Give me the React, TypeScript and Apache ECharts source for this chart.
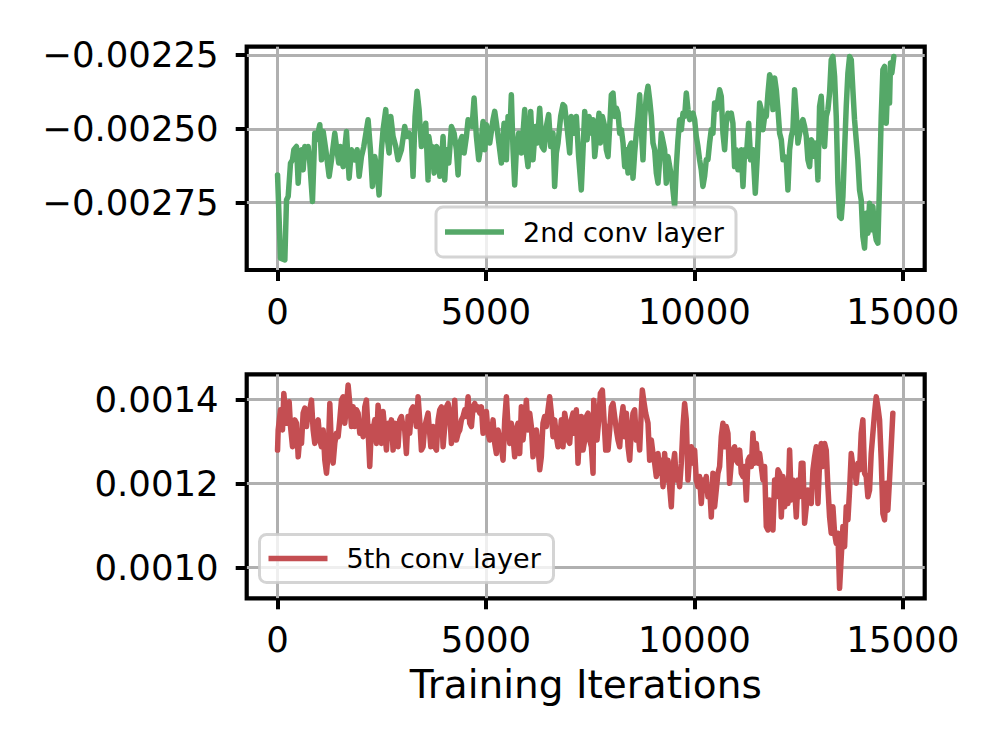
import React, { useEffect, useRef } from "react";
import * as echarts from "echarts";

const seriesNames = ["2nd conv layer", "5th conv layer"];
const xAxisTitle = "Training Iterations";
const xTicks = [0, 5000, 10000, 15000];
const topYTicks = [-0.00275, -0.0025, -0.00225];
const bottomYTicks = [0.001, 0.0012, 0.0014];

const conv2Points: [number, number][] = [
  [0,-0.002656],[71,-0.002938],[175,-0.002944],[215,-0.002741],[255,-0.002729],[311,-0.002616],[359,-0.002605],[391,-0.002571],[455,-0.002560],[495,-0.002684],[535,-0.002582],[575,-0.002571],[614,-0.002639],[654,-0.002560],[694,-0.002571],[734,-0.002560],[774,-0.002616],[838,-0.002746],[894,-0.002515],[934,-0.002537],[1014,-0.002486],[1054,-0.002605],[1094,-0.002509],[1158,-0.002571],[1238,-0.002661],[1294,-0.002605],[1373,-0.002515],[1413,-0.002560],[1469,-0.002616],[1509,-0.002560],[1573,-0.002628],[1653,-0.002509],[1717,-0.002667],[1773,-0.002571],[1853,-0.002605],[1909,-0.002571],[1957,-0.002661],[2013,-0.002594],[2069,-0.002560],[2172,-0.002469],[2228,-0.002571],[2276,-0.002695],[2332,-0.002594],[2388,-0.002639],[2436,-0.002724],[2492,-0.002571],[2532,-0.002503],[2596,-0.002435],[2628,-0.002526],[2676,-0.002582],[2716,-0.002458],[2772,-0.002526],[2836,-0.002560],[2891,-0.002605],[2971,-0.002571],[3051,-0.002492],[3091,-0.002526],[3155,-0.002515],[3211,-0.002537],[3251,-0.002661],[3299,-0.002458],[3347,-0.002373],[3395,-0.002435],[3451,-0.002560],[3507,-0.002526],[3555,-0.002481],[3611,-0.002673],
  [3628,-0.002526],[3676,-0.002571],[3708,-0.002560],[3756,-0.002650],[3812,-0.002560],[3852,-0.002571],[3892,-0.002661],[3932,-0.002616],[3971,-0.002526],[4011,-0.002673],[4051,-0.002571],[4107,-0.002616],[4171,-0.002492],[4235,-0.002515],[4291,-0.002571],[4331,-0.002656],[4371,-0.002548],[4427,-0.002526],[4475,-0.002582],[4531,-0.002526],[4571,-0.002469],[4635,-0.002481],[4667,-0.002492],[4715,-0.002396],[4770,-0.002526],[4826,-0.002605],[4874,-0.002560],[4930,-0.002475],[4970,-0.002571],[5010,-0.002486],[5050,-0.002526],[5090,-0.002548],[5170,-0.002469],[5210,-0.002441],[5250,-0.002481],[5330,-0.002571],[5370,-0.002616],[5434,-0.002481],[5490,-0.002605],[5530,-0.002458],[5569,-0.002526],[5609,-0.002385],[5649,-0.002571],[5689,-0.002690],[5729,-0.002571],[5785,-0.002515],[5849,-0.002582],[5889,-0.002515],[5929,-0.002435],[5969,-0.002582],[6009,-0.002628],[6073,-0.002441],[6129,-0.002605],[6185,-0.002492],[6233,-0.002548],[6289,-0.002430],[6344,-0.002560],[6392,-0.002571],[6448,-0.002492],[6504,-0.002452],[6552,-0.002560],[6608,-0.002515],[6648,-0.002695],[6688,-0.002582],[6728,-0.002548],[6792,-0.002458],[6848,-0.002418],[6888,-0.002424],[6952,-0.002503],[7008,-0.002582],[7048,-0.002458],[7112,-0.002515],[7168,-0.002458],[7223,-0.002594],[7287,-0.002707],
  [7369,-0.002441],[7425,-0.002537],[7473,-0.002458],[7529,-0.002515],[7569,-0.002469],[7609,-0.002594],[7664,-0.002515],[7712,-0.002447],[7744,-0.002548],[7792,-0.002458],[7848,-0.002492],[7888,-0.002571],[7928,-0.002594],[7968,-0.002492],[8008,-0.002385],[8048,-0.002379],[8088,-0.002458],[8128,-0.002430],[8168,-0.002447],[8208,-0.002515],[8248,-0.002503],[8288,-0.002548],[8328,-0.002628],[8368,-0.002571],[8408,-0.002650],[8448,-0.002560],[8487,-0.002548],[8527,-0.002667],[8567,-0.002582],[8607,-0.002515],[8647,-0.002458],[8687,-0.002385],[8727,-0.002503],[8767,-0.002605],[8807,-0.002458],[8847,-0.002390],[8887,-0.002356],[8927,-0.002402],[8967,-0.002458],[9007,-0.002548],[9047,-0.002571],[9087,-0.002650],[9127,-0.002684],[9167,-0.002605],[9207,-0.002515],[9247,-0.002543],[9286,-0.002571],[9326,-0.002684],[9366,-0.002594],[9422,-0.002639],[9470,-0.002684],[9526,-0.002763],[9566,-0.002628],[9606,-0.002537],[9646,-0.002469],[9686,-0.002503],[9726,-0.002447],[9766,-0.002458],[9806,-0.002379],[9846,-0.002435],[9886,-0.002469],[9926,-0.002458],[9966,-0.002447],[10006,-0.002469],[10046,-0.002526],[10085,-0.002560],[10125,-0.002605],[10165,-0.002639],[10205,-0.002695],[10245,-0.002661],[10285,-0.002605],[10325,-0.002605],[10365,-0.002548],[10405,-0.002503],[10445,-0.002515],[10485,-0.002413],[10525,-0.002435],[10565,-0.002402],[10605,-0.002368],[10645,-0.002390],[10685,-0.002515],[10725,-0.002571],[10765,-0.002481],[10805,-0.002447],[10845,-0.002458],[10885,-0.002447],[10924,-0.002481],[10964,-0.002628],[11004,-0.002571],[11044,-0.002639],
  [11086,-0.002639],[11126,-0.002571],[11166,-0.002695],[11206,-0.002571],[11246,-0.002594],[11302,-0.002481],[11350,-0.002605],[11405,-0.002571],[11461,-0.002718],[11509,-0.002594],[11565,-0.002413],[11605,-0.002435],[11645,-0.002503],[11685,-0.002458],[11725,-0.002458],[11765,-0.002379],[11805,-0.002317],[11845,-0.002334],[11885,-0.002435],[11925,-0.002328],[11965,-0.002368],[12005,-0.002435],[12045,-0.002515],[12085,-0.002537],[12125,-0.002605],[12165,-0.002594],[12204,-0.002605],[12244,-0.002707],[12284,-0.002571],[12324,-0.002526],[12364,-0.002503],[12404,-0.002368],[12444,-0.002447],[12484,-0.002548],[12524,-0.002515],[12564,-0.002481],[12604,-0.002469],[12644,-0.002492],[12684,-0.002526],[12724,-0.002605],[12764,-0.002628],[12804,-0.002537],[12844,-0.002548],[12884,-0.002594],[12924,-0.002548],[12964,-0.002673],[13003,-0.002424],[13043,-0.002390],[13083,-0.002515],[13123,-0.002560],[13163,-0.002458],[13203,-0.002435],[13243,-0.002379],[13283,-0.002266],[13323,-0.002255],[13363,-0.002322],[13403,-0.002458],[13443,-0.002684],[13483,-0.002797],[13523,-0.002803],[13563,-0.002729],[13603,-0.002571],[13643,-0.002424],[13683,-0.002311],[13723,-0.002255],[13763,-0.002266],[13802,-0.002368],[13842,-0.002469],[13882,-0.002537],[13922,-0.002605],[13962,-0.002707],[14002,-0.002741],[14042,-0.002865],[14082,-0.002904],[14122,-0.002786],[14162,-0.002854],[14202,-0.002752],[14242,-0.002842],[14282,-0.002763],[14322,-0.002842],[14362,-0.002876],[14402,-0.002887],[14442,-0.002684],[14482,-0.002458],[14522,-0.002300],[14562,-0.002289],[14602,-0.002481],[14641,-0.002334],[14681,-0.002413],[14705,-0.002277],[14737,-0.002311],[14785,-0.002255],
];

const conv5Points: [number, number][] = [
  [0,0.001279],[15,0.001327],[71,0.001375],[119,0.001327],[151,0.001414],[199,0.001359],[231,0.001343],[279,0.001394],[311,0.001335],[359,0.001287],[415,0.001351],[455,0.001343],[495,0.001263],[535,0.001311],[575,0.001295],[614,0.001367],[654,0.001379],[694,0.001335],[734,0.001367],[774,0.001375],[814,0.001398],[854,0.001327],[894,0.001295],[934,0.001343],[974,0.001351],[1014,0.001303],[1054,0.001287],[1094,0.001327],[1134,0.001255],[1174,0.001224],[1214,0.001271],[1254,0.001390],[1294,0.001279],[1333,0.001248],[1373,0.001295],[1413,0.001319],[1453,0.001311],[1493,0.001351],[1533,0.001398],[1573,0.001406],[1613,0.001343],[1653,0.001382],[1693,0.001434],[1733,0.001390],[1773,0.001335],[1813,0.001382],[1853,0.001335],[1893,0.001375],[1933,0.001367],[1973,0.001319],[2013,0.001343],[2053,0.001311],[2093,0.001382],[2132,0.001398],[2172,0.001327],[2212,0.001240],[2252,0.001335],[2292,0.001327],[2332,0.001351],[2372,0.001295],[2412,0.001386],[2452,0.001343],[2492,0.001295],[2532,0.001371],[2572,0.001327],[2612,0.001279],[2652,0.001343],[2692,0.001319],[2732,0.001351],[2772,0.001279],[2812,0.001343],[2852,0.001327],[2891,0.001287],[2931,0.001351],[2971,0.001359],[3011,0.001335],[3051,0.001327],[3091,0.001271],[3131,0.001359],[3171,0.001319],[3211,0.001375],[3251,0.001382],[3291,0.001375],[3331,0.001335],[3371,0.001406],[3411,0.001351],[3451,0.001279],[3491,0.001287],[3531,0.001335],[3571,0.001351],[3611,0.001367],
  [3676,0.001287],[3732,0.001335],[3772,0.001287],[3812,0.001279],[3852,0.001351],[3892,0.001375],[3932,0.001382],[3971,0.001287],[4011,0.001335],[4051,0.001382],[4091,0.001390],[4131,0.001367],[4171,0.001295],[4211,0.001327],[4251,0.001398],[4291,0.001303],[4331,0.001319],[4371,0.001327],[4411,0.001351],[4451,0.001359],[4491,0.001375],[4531,0.001359],[4571,0.001406],[4611,0.001343],[4651,0.001335],[4691,0.001382],[4731,0.001390],[4770,0.001375],[4810,0.001382],[4850,0.001367],[4890,0.001382],[4930,0.001319],[4970,0.001343],[5010,0.001371],[5050,0.001319],[5090,0.001303],[5130,0.001311],[5170,0.001351],[5210,0.001295],[5250,0.001271],[5290,0.001327],[5330,0.001303],[5370,0.001287],[5410,0.001255],[5450,0.001351],[5490,0.001406],[5530,0.001335],[5569,0.001295],[5609,0.001343],[5649,0.001311],[5689,0.001263],[5729,0.001327],[5769,0.001343],[5809,0.001271],[5849,0.001382],[5889,0.001303],[5929,0.001343],[5969,0.001398],[6009,0.001327],[6049,0.001367],[6089,0.001335],[6129,0.001263],[6169,0.001303],[6209,0.001327],[6249,0.001287],[6289,0.001232],[6328,0.001263],[6368,0.001343],[6408,0.001359],[6448,0.001335],[6488,0.001375],[6528,0.001406],[6568,0.001367],[6608,0.001311],[6648,0.001351],[6688,0.001311],[6728,0.001287],[6768,0.001303],[6808,0.001351],[6848,0.001287],[6888,0.001367],[6928,0.001343],[6968,0.001303],[7008,0.001295],[7048,0.001351],[7088,0.001367],[7128,0.001319],[7168,0.001375],[7208,0.001248],[7248,0.001327],[7287,0.001359],
  [7329,0.001279],[7369,0.001303],[7409,0.001359],[7449,0.001367],[7489,0.001303],[7529,0.001287],[7569,0.001224],[7585,0.001398],[7633,0.001351],[7664,0.001303],[7712,0.001359],[7744,0.001414],[7792,0.001422],[7824,0.001367],[7872,0.001279],[7904,0.001335],[7928,0.001279],[7968,0.001327],[8008,0.001382],[8048,0.001390],[8088,0.001359],[8128,0.001327],[8168,0.001303],[8208,0.001287],[8248,0.001351],[8288,0.001382],[8328,0.001311],[8368,0.001367],[8408,0.001287],[8448,0.001255],[8487,0.001327],[8527,0.001367],[8567,0.001375],[8607,0.001303],[8647,0.001327],[8687,0.001279],[8727,0.001375],[8751,0.001422],[8783,0.001398],[8831,0.001367],[8887,0.001343],[8927,0.001255],[8967,0.001303],[9007,0.001271],[9047,0.001248],[9087,0.001216],[9127,0.001271],[9167,0.001224],[9207,0.001255],[9247,0.001192],[9286,0.001271],[9326,0.001208],[9366,0.001255],[9406,0.001192],[9446,0.001144],[9486,0.001240],[9526,0.001271],[9566,0.001208],[9606,0.001232],[9646,0.001192],[9686,0.001248],[9726,0.001335],[9766,0.001390],[9806,0.001351],[9846,0.001208],[9886,0.001263],[9926,0.001287],[9966,0.001248],[10006,0.001279],[10046,0.001208],[10085,0.001192],[10125,0.001216],[10165,0.001152],[10205,0.001208],[10245,0.001184],[10285,0.001216],[10325,0.001168],[10365,0.001192],[10405,0.001120],[10445,0.001224],[10485,0.001144],[10525,0.001184],[10565,0.001224],[10605,0.001240],[10645,0.001311],[10685,0.001343],[10725,0.001287],[10765,0.001335],[10805,0.001319],[10845,0.001200],[10885,0.001248],[10924,0.001279],[10964,0.001287],[11004,0.001255],
  [11046,0.001248],[11086,0.001279],[11126,0.001224],[11166,0.001216],[11206,0.001240],[11246,0.001160],[11286,0.001255],[11326,0.001263],[11366,0.001240],[11405,0.001319],[11445,0.001248],[11485,0.001295],[11525,0.001248],[11565,0.001271],[11605,0.001240],[11645,0.001208],[11685,0.001240],[11725,0.001097],[11765,0.001089],[11805,0.001160],[11845,0.001097],[11885,0.001089],[11925,0.001208],[11965,0.001168],[12005,0.001232],[12045,0.001224],[12085,0.001120],[12125,0.001216],[12165,0.001144],[12204,0.001208],[12244,0.001152],[12284,0.001279],[12324,0.001160],[12364,0.001208],[12404,0.001192],[12444,0.001120],[12484,0.001208],[12524,0.001168],[12564,0.001248],[12604,0.001248],[12644,0.001105],[12684,0.001144],[12724,0.001184],[12764,0.001160],[12804,0.001152],[12844,0.001232],[12884,0.001263],[12924,0.001287],[12964,0.001152],[13003,0.001248],[13043,0.001295],[13083,0.001240],[13123,0.001295],[13163,0.001279],[13203,0.001192],[13243,0.001120],[13283,0.001081],[13323,0.001144],[13363,0.001081],[13403,0.001057],[13443,0.001081],[13483,0.000950],[13523,0.001025],[13563,0.001097],[13603,0.001049],[13643,0.001144],[13683,0.001113],[13723,0.001184],[13763,0.001271],[13802,0.001240],[13842,0.001240],[13882,0.001200],[13922,0.001248],[13962,0.001232],[14002,0.001319],[14042,0.001351],[14082,0.001224],[14122,0.001216],[14162,0.001168],[14202,0.001184],[14242,0.001271],[14282,0.001319],[14322,0.001367],[14362,0.001406],[14402,0.001382],[14442,0.001351],[14482,0.001255],[14522,0.001128],[14562,0.001113],[14602,0.001200],[14641,0.001136],[14681,0.001208],[14721,0.001287],[14761,0.001367],
];

const FONT = "DejaVu Sans";
const GREEN = "#55a868";
const RED = "#c44e52";
const GRID_COLOR = "#b0b0b0";
const TICK_FONT = 35.5;
const LINE_W = 5.5;

function makeXAxis(gridIndex: number, withName: boolean) {
  return {
    type: "value",
    gridIndex,
    min: -740,
    max: 15525,
    name: withName ? xAxisTitle : "",
    nameLocation: "middle",
    nameGap: 67,
    nameTextStyle: { color: "#000", fontSize: 39, fontFamily: FONT },
    axisLine: { show: false, onZero: false },
    axisTick: {
      show: true,
      inside: false,
      length: 11,
      customValues: xTicks,
      lineStyle: { color: "#000", width: 4 },
    },
    axisLabel: {
      show: true,
      customValues: xTicks,
      margin: 23,
      color: "#000",
      fontSize: TICK_FONT,
      fontFamily: FONT,
      formatter: (v: number) => String(Math.round(v)),
    },
    splitLine: { show: true, lineStyle: { color: GRID_COLOR, width: 3 } },
  };
}

function makeYAxis(gridIndex: number, min: number, max: number, ticks: number[], digits: number) {
  return {
    type: "value",
    gridIndex,
    min,
    max,
    axisLine: { show: false, onZero: false },
    axisTick: {
      show: true,
      inside: false,
      length: 11,
      customValues: ticks,
      lineStyle: { color: "#000", width: 4 },
    },
    axisLabel: {
      show: true,
      customValues: ticks,
      margin: 28,
      color: "#000",
      fontSize: TICK_FONT,
      fontFamily: FONT,
      formatter: (v: number) => v.toFixed(digits).replace("-", "\u2212"),
    },
    splitLine: { show: true, lineStyle: { color: GRID_COLOR, width: 3 } },
  };
}

function legendBox(x: number, y: number, w: number, h: number, color: string, label: string) {
  const cy = y + h / 2;
  return {
    type: "group",
    z: 20,
    children: [
      {
        type: "rect",
        z: 20,
        shape: { x, y, width: w, height: h, r: 7 },
        style: { fill: "rgba(255,255,255,0.8)", stroke: "rgba(204,204,204,0.85)", lineWidth: 3 },
      },
      {
        type: "line",
        z: 21,
        shape: { x1: x + 9, y1: cy, x2: x + 68, y2: cy },
        style: { stroke: color, lineWidth: LINE_W },
      },
      {
        type: "text",
        z: 21,
        x: x + 87,
        y: cy,
        style: {
          text: label,
          fill: "#000",
          fontSize: 27,
          fontFamily: FONT,
          verticalAlign: "middle",
          align: "left",
        },
      },
    ],
  };
}

export default function App() {
  const ref = useRef<HTMLDivElement>(null);
  useEffect(() => {
    if (!ref.current) return;
    const chart = echarts.init(ref.current, null, { renderer: "svg" });
    chart.setOption({
      animation: false,
      backgroundColor: "#ffffff",
      grid: [
        {
          left: 246.7, top: 46.7, width: 678, height: 223.3,
          show: true, borderColor: "#000", borderWidth: 4.2, backgroundColor: "transparent",
          containLabel: false, outerBoundsMode: "none",
        },
        {
          left: 246.7, top: 374.3, width: 678, height: 224,
          show: true, borderColor: "#000", borderWidth: 4.2, backgroundColor: "transparent",
          containLabel: false, outerBoundsMode: "none",
        },
      ],
      xAxis: [makeXAxis(0, false), makeXAxis(1, true)],
      yAxis: [
        makeYAxis(0, -0.002978, -0.002222, topYTicks, 5),
        makeYAxis(1, 0.0009262, 0.0014595, bottomYTicks, 4),
      ],
      series: [
        {
          type: "line",
          name: seriesNames[0],
          xAxisIndex: 0,
          yAxisIndex: 0,
          data: conv2Points,
          showSymbol: false,
          symbol: "none",
          z: 5,
          lineStyle: { color: GREEN, width: LINE_W, join: "round", cap: "round" },
          itemStyle: { color: GREEN },
        },
        {
          type: "line",
          name: seriesNames[1],
          xAxisIndex: 1,
          yAxisIndex: 1,
          data: conv5Points,
          showSymbol: false,
          symbol: "none",
          z: 5,
          lineStyle: { color: RED, width: LINE_W, join: "round", cap: "round" },
          itemStyle: { color: RED },
        },
      ],
      graphic: [
        legendBox(436, 207, 300, 50, GREEN, seriesNames[0]),
        legendBox(259.5, 534.5, 294, 48, RED, seriesNames[1]),
      ],
    });
    return () => chart.dispose();
  }, []);
  return (
    <div
      ref={ref}
      style={{ position: "absolute", left: 0, top: 0, width: 999, height: 749, background: "#fff" }}
    />
  );
}
